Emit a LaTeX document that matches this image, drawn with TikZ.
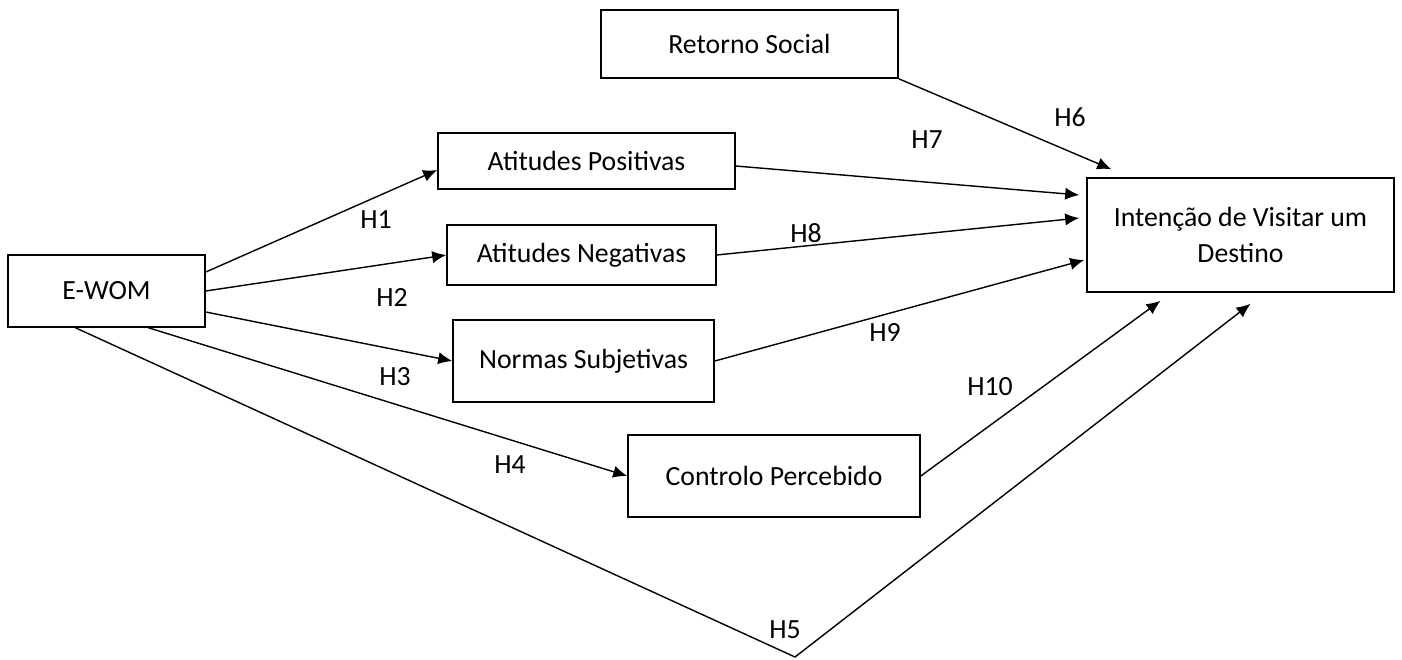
\documentclass[tikz,border=0pt]{standalone}
\usepackage{fontspec}
\setmainfont{Carlito}
\usetikzlibrary{calc,arrows.meta}

\begin{document}
\begin{tikzpicture}
	[x=0.02cm,y=-0.02cm,line width=0.8pt,
	>={Latex[length=8pt,width=7pt]},
	box/.style={rectangle,draw,line width=0.9pt,inner sep=2pt,font=\fontsize{15.8}{20}\selectfont},
	hyp/.style={inner sep=0pt,font=\fontsize{15.8}{20}\selectfont}]
	\useasboundingbox (0,0) rectangle (1402,659);
	\node (ret) [box,minimum width=5.94cm,minimum height=1.36cm] at (749.5,44) {Retorno Social};
	\node (pos) [box,minimum width=5.94cm,minimum height=1.12cm] at (586.5,161) {Atitudes Positivas};
	\node (neg) [box,minimum width=5.38cm,minimum height=1.2cm] at (581.5,255) {Atitudes Negativas};
	\node (nor) [box,minimum width=5.22cm,minimum height=1.64cm] at (583.5,361) {Normas Subjetivas};
	\node (con) [box,minimum width=5.84cm,minimum height=1.64cm] at (774,476) {Controlo Percebido};
	\node (ewom) [box,minimum width=3.94cm,minimum height=1.44cm] at (106.5,291) {E-WOM};
	\node (int) [box,align=center,minimum width=6.14cm,minimum height=2.28cm] at (1240.5,235) {Intenção de Visitar um\\Destino};
	\coordinate (v) at (795,657);
	\node (h1) [hyp] at (376,220) {H1};
	\node (h2) [hyp] at (392,297) {H2};
	\node (h3) [hyp] at (395,377) {H3};
	\node (h4) [hyp] at (510,465) {H4};
	\node (h5) [hyp] at (785,630) {H5};
	\node (h6) [hyp] at (1070,117) {H6};
	\node (h7) [hyp] at (927,140) {H7};
	\node (h8) [hyp] at (806,233) {H8};
	\node (h9) [hyp] at (885,332) {H9};
	\node (h10) [hyp] at (990,387) {H10};
	\draw [->] ($(ewom.east)+(0,-19)$) -- ($(pos.west)+(0,9)$);
	\draw [->] (ewom.east) -- (neg.west);
	\draw [->] ($(ewom.east)+(0,21)$) -- (nor.west);
	\draw [->] ($(ewom.south)+(42,0)$) -- (con.west);
	\draw [->] ($(ewom.south)+(-31,0)$) -- (v) -- ($(int.south)+(10,11)$);
	\draw [->] (ret.south east) -- ($(int.north west)+(25,-8)$);
	\draw [->] ($(pos.east)+(0,5)$) -- ($(int.west)+(-7,-40)$);
	\draw [->] (neg.east) -- ($(int.west)+(-7,-17)$);
	\draw [->] (nor.east) -- ($(int.west)+(-2,25)$);
	\draw [->] (con.east) -- ($(int.south)+(-80,8)$);
\end{tikzpicture}
\end{document}
